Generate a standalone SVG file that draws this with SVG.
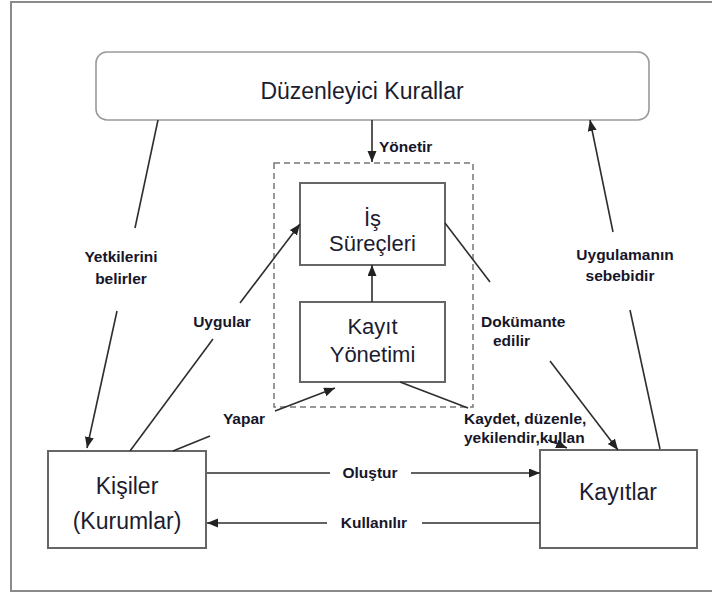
<svg xmlns="http://www.w3.org/2000/svg" width="712" height="595" viewBox="0 0 712 595">
<style>
.frame{fill:none;stroke:#8a8a8a;stroke-width:2}
.box{fill:#fff;stroke:#666;stroke-width:2}
.rbox{fill:#fff;stroke:#9a9a9a;stroke-width:1.6}
.dash{fill:none;stroke:#777;stroke-width:1.5;stroke-dasharray:6 4}
.ln{fill:none;stroke:#2e2e2e;stroke-width:1.6}
.nt{font-family:"Liberation Sans",Arial,sans-serif;font-size:22px;fill:#1c1c30;text-anchor:middle}
.lb{font-family:"Liberation Sans",Arial,sans-serif;font-size:15.5px;font-weight:bold;fill:#16162a}
.c{text-anchor:middle}
</style>
<defs>
<marker id="ah" markerUnits="userSpaceOnUse" markerWidth="12" markerHeight="10" refX="11" refY="4.5" orient="auto">
<path d="M0,0 L11,4.5 L0,9 Z" fill="#222"/>
</marker>
</defs>
<rect class="frame" x="11" y="2" width="720" height="589"/>
<g id="duzenleyici">
<rect class="rbox" x="96" y="52" width="553" height="68" rx="11"/>
<text class="nt" x="362" y="99" style="font-size:23px">Düzenleyici Kurallar</text>
</g>
<g id="cerceve">
<rect class="dash" x="274" y="163" width="199" height="244"/>
</g>
<g id="is-surecleri">
<rect class="box" x="300" y="183" width="145" height="82"/>
<text class="nt" x="372.5" y="226">İş</text>
<text class="nt" x="372.5" y="251">Süreçleri</text>
</g>
<g id="kayit-yonetimi">
<rect class="box" x="300" y="302" width="145" height="80"/>
<text class="nt" x="372.5" y="334">Kayıt</text>
<text class="nt" x="372.5" y="362">Yönetimi</text>
</g>
<g id="kisiler">
<rect class="box" x="48" y="451" width="158" height="97"/>
<text class="nt" x="127" y="494" style="font-size:23px">Kişiler</text>
<text class="nt" x="127" y="529" style="font-size:23px">(Kurumlar)</text>
</g>
<g id="kayitlar">
<rect class="box" x="540" y="450" width="157" height="98"/>
<text class="nt" x="618" y="500" style="font-size:23px">Kayıtlar</text>
</g>
<g id="connectors">
<line class="ln" x1="372" y1="120" x2="372" y2="162" marker-end="url(#ah)"/>
<line class="ln" x1="372" y1="302" x2="372" y2="265" marker-end="url(#ah)"/>
<line class="ln" x1="158" y1="120" x2="135" y2="228"/>
<line class="ln" x1="117" y1="311" x2="87" y2="448" marker-end="url(#ah)"/>
<line class="ln" x1="130" y1="451" x2="213" y2="339"/>
<line class="ln" x1="240" y1="303" x2="300" y2="224" marker-end="url(#ah)"/>
<line class="ln" x1="173" y1="451" x2="210" y2="436"/>
<line class="ln" x1="275" y1="411" x2="335" y2="388" marker-end="url(#ah)"/>
<line class="ln" x1="400" y1="382" x2="468" y2="408"/>
<line class="ln" x1="548" y1="440" x2="567" y2="448" marker-end="url(#ah)"/>
<line class="ln" x1="445" y1="223" x2="490" y2="282"/>
<line class="ln" x1="550" y1="361" x2="618" y2="450" marker-end="url(#ah)"/>
<line class="ln" x1="660" y1="449" x2="630" y2="310"/>
<line class="ln" x1="613" y1="232" x2="590" y2="120" marker-end="url(#ah)"/>
<line class="ln" x1="207" y1="473" x2="330" y2="473"/>
<line class="ln" x1="411" y1="473" x2="540" y2="473" marker-end="url(#ah)"/>
<line class="ln" x1="540" y1="523" x2="422" y2="523"/>
<line class="ln" x1="327" y1="523" x2="207" y2="523" marker-end="url(#ah)"/>
</g>
<g id="labels">
<text class="lb" x="379" y="152">Yönetir</text>
<text class="lb c" x="121" y="262">Yetkilerini</text>
<text class="lb c" x="121" y="284">belirler</text>
<text class="lb c" x="222" y="327">Uygular</text>
<text class="lb c" x="244" y="424">Yapar</text>
<text class="lb" x="481" y="327">Dokümante</text>
<text class="lb" x="493" y="346">edilir</text>
<text class="lb" x="464" y="424">Kaydet, düzenle,</text>
<text class="lb" x="464" y="443">yekilendir,kullan</text>
<text class="lb c" x="625" y="260">Uygulamanın</text>
<text class="lb c" x="620" y="281">sebebidir</text>
<text class="lb c" x="370" y="478">Oluştur</text>
<text class="lb c" x="374" y="528">Kullanılır</text>
</g>
</svg>
